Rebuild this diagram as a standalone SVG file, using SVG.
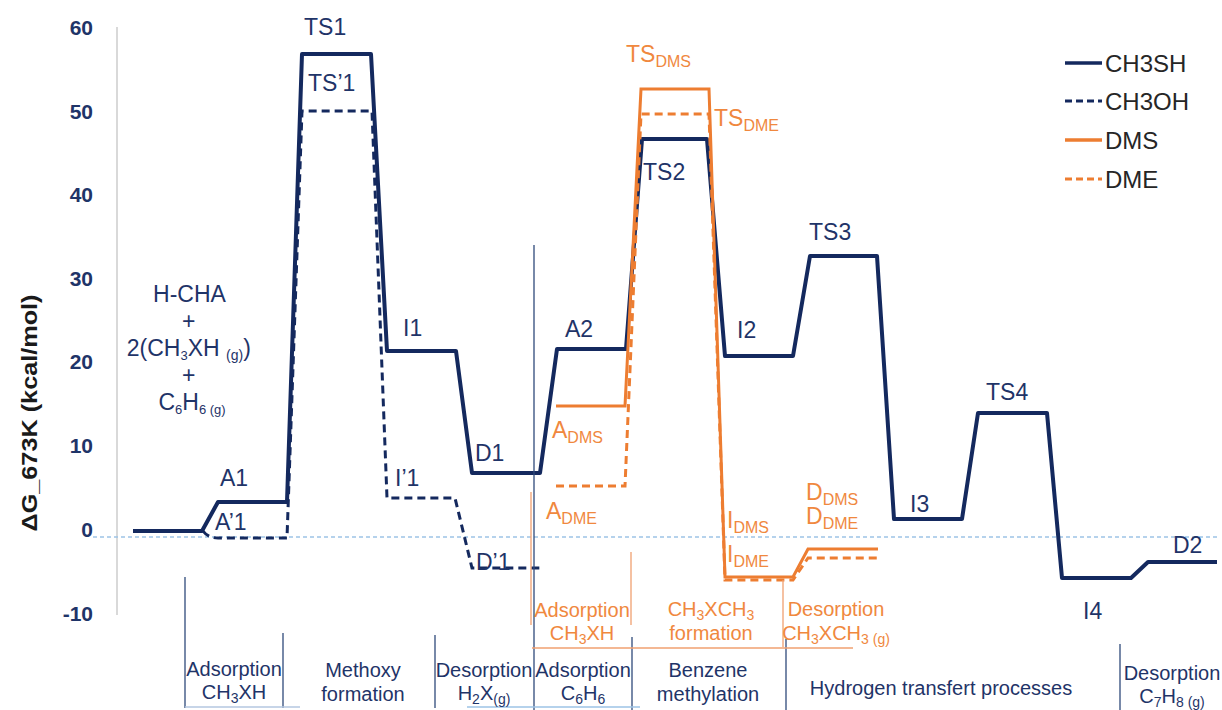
<svg xmlns="http://www.w3.org/2000/svg" width="1222" height="710" viewBox="0 0 1222 710">
<style>
text{font-family:"Liberation Sans",Arial,sans-serif}
.tick{font-size:21px;font-weight:bold;fill:#1F3468;text-anchor:end}
.lbl{font-size:23px;fill:#1F3468}
.olbl{font-size:23px;fill:#F0883E}
.sub{font-size:16px}
.proc{font-size:20px;fill:#1F3468;text-anchor:middle}
.oproc{font-size:20px;fill:#F0883E;text-anchor:middle}
.leg{font-size:24px;fill:#262626}
.navy{fill:none;stroke:#14295E;stroke-width:4;stroke-linejoin:round}
.navyd{fill:none;stroke:#14295E;stroke-width:3;stroke-dasharray:8 5}
.org{fill:none;stroke:#ED7D31;stroke-width:3}
.orgd{fill:none;stroke:#ED7D31;stroke-width:3;stroke-dasharray:8 5}
.sep{stroke:#2F4A7A;stroke-width:1.3}
.osep{stroke:#F0A070;stroke-width:1.3}
</style>
<rect width="1222" height="710" fill="#ffffff"/>
<g id="axis">
<line x1="117" y1="27" x2="117" y2="615" stroke="#D9D9D9" stroke-width="2"/>
<line x1="93" y1="537" x2="1220" y2="537" stroke="#9DC3E6" stroke-width="1.3" stroke-dasharray="4 3"/>
<text class="tick" x="93" y="35">60</text>
<text class="tick" x="93" y="119">50</text>
<text class="tick" x="93" y="202">40</text>
<text class="tick" x="93" y="286">30</text>
<text class="tick" x="93" y="369">20</text>
<text class="tick" x="93" y="453">10</text>
<text class="tick" x="93" y="537">0</text>
<text class="tick" x="93" y="621">-10</text>
<text x="0" y="0" transform="translate(37,413) rotate(-90)" text-anchor="middle" font-size="22" font-weight="bold" fill="#1a1a1a" textLength="237" lengthAdjust="spacingAndGlyphs">ΔG_673K (kcal/mol)</text>
</g>
<g id="connectors">
<path class="navy" d="M133,531 H202 L218,502 H287 L302,54 H371 L387,351 H456 L472,473 H540 L557,349 H626 L642,139 H707 L725,356 H793 L810,256 H877 L894,519 H962 L978,413 H1047 L1062,578 H1131 L1148,562 H1217"/>
<path class="navyd" d="M203,531 Q208,538 218,538 H287 L302,111 H372 L387,498 H455 L472,568 H540"/>
<path class="org" d="M556,406 H625 L641,89 H709 L725,577 H793 L808,549 H878"/>
<path class="orgd" d="M556,486 H625 L641,114 H709 L725,580 H793 L808,558 H878"/>
</g>
<g id="reactants"><text class="lbl" text-anchor="middle" font-size="20">
<tspan x="192" y="302">H-CHA</tspan>
<tspan x="192" y="329">+</tspan>
<tspan x="192" y="356">2(CH<tspan font-size="13" dy="4">3</tspan><tspan dy="-4">XH </tspan><tspan font-size="14" dy="4">(g)</tspan><tspan dy="-4">)</tspan></tspan>
<tspan x="192" y="383">+</tspan>
<tspan x="192" y="410">C<tspan font-size="13" dy="4">6</tspan><tspan dy="-4">H</tspan><tspan font-size="13" dy="4">6 (g)</tspan></tspan>
</text></g>
<g id="node-A1"><text class="lbl" x="220" y="486">A1</text></g>
<g id="node-A1p"><text class="lbl" x="215" y="530">A’1</text></g>
<g id="node-TS1"><text class="lbl" x="304" y="35">TS1</text></g>
<g id="node-TS1p"><text class="lbl" x="308" y="91">TS’1</text></g>
<g id="node-I1"><text class="lbl" x="403" y="336">I1</text></g>
<g id="node-I1p"><text class="lbl" x="395" y="486">I’1</text></g>
<g id="node-D1"><text class="lbl" x="475" y="461">D1</text></g>
<g id="node-D1p"><text class="lbl" x="476" y="570">D’1</text></g>
<g id="node-A2"><text class="lbl" x="565" y="337">A2</text></g>
<g id="node-TS2"><text class="lbl" x="643" y="180">TS2</text></g>
<g id="node-I2"><text class="lbl" x="737" y="338">I2</text></g>
<g id="node-TS3"><text class="lbl" x="809" y="240">TS3</text></g>
<g id="node-I3"><text class="lbl" x="910" y="512">I3</text></g>
<g id="node-TS4"><text class="lbl" x="986" y="400">TS4</text></g>
<g id="node-I4"><text class="lbl" x="1083" y="619">I4</text></g>
<g id="node-D2"><text class="lbl" x="1173" y="553">D2</text></g>
<g id="node-TSDMS"><text class="olbl" x="626" y="62">TS<tspan class="sub" dy="5">DMS</tspan></text></g>
<g id="node-TSDME"><text class="olbl" x="714" y="126">TS<tspan class="sub" dy="5">DME</tspan></text></g>
<g id="node-ADMS"><text class="olbl" x="552" y="438">A<tspan class="sub" dy="5">DMS</tspan></text></g>
<g id="node-ADME"><text class="olbl" x="546" y="519">A<tspan class="sub" dy="5">DME</tspan></text></g>
<g id="node-IDMS"><text class="olbl" x="727" y="528">I<tspan class="sub" dy="5">DMS</tspan></text></g>
<g id="node-IDME"><text class="olbl" x="727" y="562">I<tspan class="sub" dy="5">DME</tspan></text></g>
<g id="node-DDMS"><text class="olbl" x="806" y="500">D<tspan class="sub" dy="5">DMS</tspan></text></g>
<g id="node-DDME"><text class="olbl" x="806" y="524">D<tspan class="sub" dy="5">DME</tspan></text></g>
<g id="process-separators">
<line class="sep" x1="185" y1="577" x2="185" y2="708"/>
<line class="sep" x1="283" y1="633" x2="283" y2="708"/>
<line class="sep" x1="435" y1="635" x2="435" y2="708"/>
<line class="sep" x1="534" y1="245" x2="534" y2="710"/>
<line class="sep" x1="632" y1="637" x2="632" y2="710"/>
<line class="sep" x1="786" y1="639" x2="786" y2="710"/>
<line class="sep" x1="1120" y1="644" x2="1120" y2="710"/>
<line x1="185" y1="707" x2="300" y2="707" stroke="#B4C7E0" stroke-width="1.3"/>
<line x1="467" y1="707" x2="640" y2="707" stroke="#9DC3E6" stroke-width="1.5"/>
<line class="osep" x1="531" y1="492" x2="531" y2="625"/>
<line class="osep" x1="631" y1="552" x2="631" y2="625"/>
<line class="osep" x1="783" y1="580" x2="783" y2="647"/>
<line class="osep" x1="532" y1="648" x2="853" y2="648"/>
</g>
<g id="process-labels">
<text class="proc"><tspan x="234" y="676">Adsorption</tspan><tspan x="234" y="699">CH<tspan font-size="14" dy="4">3</tspan><tspan dy="-4">XH</tspan></tspan></text>
<text class="proc"><tspan x="363" y="677">Methoxy</tspan><tspan x="363" y="701">formation</tspan></text>
<text class="proc"><tspan x="484" y="677">Desorption</tspan><tspan x="484" y="700">H<tspan font-size="14" dy="4">2</tspan><tspan dy="-4">X</tspan><tspan font-size="14" dy="4">(g)</tspan></tspan></text>
<text class="proc"><tspan x="583" y="677">Adsorption</tspan><tspan x="583" y="700">C<tspan font-size="14" dy="4">6</tspan><tspan dy="-4">H</tspan><tspan font-size="14" dy="4">6</tspan></tspan></text>
<text class="proc"><tspan x="708" y="677">Benzene</tspan><tspan x="708" y="701">methylation</tspan></text>
<text class="proc" x="941" y="695">Hydrogen transfert processes</text>
<text class="proc"><tspan x="1172" y="680">Desorption</tspan><tspan x="1172" y="703">C<tspan font-size="14" dy="4">7</tspan><tspan dy="-4">H</tspan><tspan font-size="14" dy="4">8 (g)</tspan></tspan></text>
<text class="oproc"><tspan x="582" y="617">Adsorption</tspan><tspan x="582" y="640">CH<tspan font-size="14" dy="4">3</tspan><tspan dy="-4">XH</tspan></tspan></text>
<text class="oproc"><tspan x="711" y="616">CH<tspan font-size="14" dy="4">3</tspan><tspan dy="-4">XCH</tspan><tspan font-size="14" dy="4">3</tspan></tspan><tspan x="711" y="640">formation</tspan></text>
<text class="oproc"><tspan x="836" y="616">Desorption</tspan><tspan x="836" y="640">CH<tspan font-size="14" dy="4">3</tspan><tspan dy="-4">XCH</tspan><tspan font-size="14" dy="4">3 (g)</tspan></tspan></text>
</g>
<g id="legend">
<line class="navy" x1="1065" y1="63" x2="1102" y2="63" style="stroke-width:3.5"/>
<line class="navyd" x1="1065" y1="101" x2="1102" y2="101" style="stroke-dasharray:7 4"/>
<line class="org" x1="1065" y1="140" x2="1102" y2="140" style="stroke-width:3.5"/>
<line class="orgd" x1="1065" y1="179" x2="1102" y2="179" style="stroke-dasharray:7 4"/>
<text class="leg" x="1105" y="72">CH3SH</text>
<text class="leg" x="1105" y="110">CH3OH</text>
<text class="leg" x="1105" y="149">DMS</text>
<text class="leg" x="1105" y="188">DME</text>
</g>
</svg>
